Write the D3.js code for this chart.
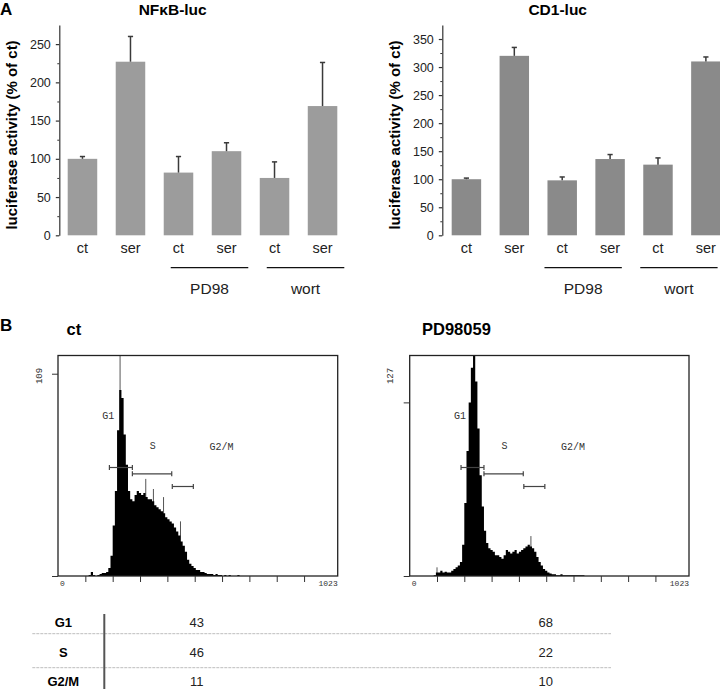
<!DOCTYPE html>
<html>
<head>
<meta charset="utf-8">
<script src="https://cdn.jsdelivr.net/npm/d3@7"></script>
<style>
  body { margin: 0; background: #fff; }
  svg { display: block; font-family: "Liberation Sans", Arial, sans-serif; }
</style>
</head>
<body>
<div id="chart"></div>
<script>
// ---- panel A data ----
const conditions = ["ct", "ser", "ct", "ser", "ct", "ser"];
const groupNames = ["PD98", "wort"];
const groupMembers = [[2, 3], [4, 5]];

const nfkbMeans = [100, 227, 82, 110, 75, 169];
const nfkbErrors = [3, 33, 21, 11, 21, 57];
const nfkbTicks = [0, 50, 100, 150, 200, 250];

const cd1Means = [100, 320, 98, 136, 126, 310];
const cd1Errors = [2, 15, 6, 8, 12, 8];
const cd1Ticks = [0, 50, 100, 150, 200, 250, 300, 350];

// ---- panel B data (DNA content histograms, 8 channel bins) ----
const binWidth = 8;
const ctStart = 96;
const ctCounts = [0, 0, 0.5, 2, 0.5, 0, 0.5, 1, 1.5, 1.5, 2, 4, 10, 25, 42, 72, 92, 88, 70, 55,
  42, 38, 37, 40, 42, 41, 40, 41, 39, 38, 38, 37, 35, 34, 33, 32, 31, 29, 28, 27,
  26, 24, 22, 20, 17, 15, 12, 8, 6, 5, 4, 3, 3, 2, 2, 1.5, 1, 1, 1, 0.5,
  1, 0.5, 0.5, 0, 0.5, 0, 0.5, 0, 0, 0, 0.5, 0];
const ctSpikes = [[227, 120], [321, 48], [349, 43], [386, 39], [448, 27]];

const pdStart = 88;
const pdCounts = [0.5, 2, 2, 3, 2, 2.5, 2, 2, 3, 4, 5, 6, 8, 18, 42, 72, 100, 120, 127, 112,
  85, 58, 40, 26, 19, 16, 15, 14, 12, 12, 11, 10, 12, 15, 14, 13, 14, 15, 13, 14,
  15, 16, 17, 18, 17, 16, 14, 11, 8, 6, 4, 3, 2, 1.5, 1, 1, 0.5, 0.5, 1, 0.5,
  0.5, 0.5, 0.5, 0.5, 0.5, 0.5, 0.5, 0.5, 0.5, 0];
const pdSpikes = [[100, 5], [444, 23]];

const gateNames = ["G1", "S", "G2/M"];
const gateRanges = [[188, 272], [272, 416], [418, 495]];
const gateLabelChannels = [184, 347, 598];

// ---- cell cycle table ----
const phases = ["G1", "S", "G2/M"];
const ctPercents = [43, 46, 11];
const pdPercents = [68, 22, 10];

const svg = d3.select("#chart").append("svg")
    .attr("width", 720)
    .attr("height", 689);

svg.append("text").attr("x", 0).attr("y", 15)
    .attr("font-weight", "bold").attr("font-size", 17).text("A");
svg.append("text").attr("x", 0).attr("y", 331)
    .attr("font-weight", "bold").attr("font-size", 17).text("B");

function barPanel(o) {
    const g = svg.append("g");
    const y = d3.scaleLinear().domain([0, o.yMax]).range([235.3, 25]);
    const x = d3.scaleBand().domain(d3.range(conditions.length))
        .range([o.left, o.right]).paddingInner(0.385).paddingOuter(o.outer);

    g.selectAll("rect.bar").data(o.means).join("rect")
        .attr("class", "bar")
        .attr("x", (d, i) => x(i))
        .attr("width", x.bandwidth())
        .attr("y", d => y(d))
        .attr("height", d => y(0) - y(d))
        .attr("fill", o.color);

    // upper error bars only
    const err = g.selectAll("g.err").data(o.means).join("g").attr("class", "err")
        .attr("stroke", "#3a3a3a").attr("stroke-width", 1.5);
    err.append("line")
        .attr("x1", (d, i) => x(i) + x.bandwidth() / 2)
        .attr("x2", (d, i) => x(i) + x.bandwidth() / 2)
        .attr("y1", d => y(d))
        .attr("y2", (d, i) => y(d + o.errors[i]));
    err.append("line")
        .attr("x1", (d, i) => x(i) + x.bandwidth() / 2 - 2.6)
        .attr("x2", (d, i) => x(i) + x.bandwidth() / 2 + 2.6)
        .attr("y1", (d, i) => y(d + o.errors[i]))
        .attr("y2", (d, i) => y(d + o.errors[i]));

    // y axis with minor ticks
    const minor = d3.range(25, o.yMax, 50);
    g.append("g").attr("transform", `translate(${o.left},0)`)
        .call(d3.axisLeft(y).tickValues(minor).tickSize(2).tickFormat("").tickSizeOuter(0))
        .call(a => a.select(".domain").remove())
        .selectAll("line").attr("stroke", "#333");
    const ax = g.append("g").attr("transform", `translate(${o.left},0)`)
        .call(d3.axisLeft(y).tickValues(o.ticks).tickSize(3.5).tickPadding(5).tickSizeOuter(0));
    ax.select(".domain").attr("stroke", "#333").attr("stroke-width", 1.2);
    ax.selectAll("line").attr("stroke", "#333").attr("stroke-width", 1.2);
    ax.selectAll("text").attr("font-size", 12.5).attr("fill", "#222")
        .attr("font-family", "Liberation Sans, Arial, sans-serif");

    g.selectAll("text.cat").data(conditions).join("text")
        .attr("class", "cat")
        .attr("x", (d, i) => x(i) + x.bandwidth() / 2)
        .attr("y", 253)
        .attr("text-anchor", "middle")
        .attr("font-size", 14.5)
        .attr("fill", "#222")
        .text(d => d);

    groupNames.forEach((name, k) => {
        const [a, b] = groupMembers[k];
        const x1 = x(a) + o.lineShift, x2 = x(b) + x.bandwidth() + o.lineShift;
        g.append("line").attr("x1", x1).attr("x2", x2).attr("y1", 267.7).attr("y2", 267.7)
            .attr("stroke", "#111").attr("stroke-width", 1.3);
        g.append("text").attr("x", (x1 + x2) / 2).attr("y", 294)
            .attr("text-anchor", "middle").attr("font-size", 15.5).attr("fill", "#222")
            .text(name);
    });

    g.append("text").attr("x", o.titleX).attr("y", 15)
        .attr("text-anchor", "middle").attr("font-weight", "bold").attr("font-size", 15.5)
        .text(o.title);

    g.append("text")
        .attr("transform", `translate(${o.yTitleX},135) rotate(-90)`)
        .attr("text-anchor", "middle").attr("font-weight", "bold").attr("font-size", 15)
        .attr("dy", "0.35em")
        .text("luciferase activity (% of ct)");
}

barPanel({
    left: 59.3, right: 345.7, outer: 0.175, yMax: 275,
    means: nfkbMeans, errors: nfkbErrors, ticks: nfkbTicks, color: "#9c9c9c",
    title: "NFκB-luc", titleX: 172.7, yTitleX: 11.7, lineShift: 7
});
barPanel({
    left: 442.3, right: 730, outer: 0.196, yMax: 375,
    means: cd1Means, errors: cd1Errors, ticks: cd1Ticks, color: "#8a8a8a",
    title: "CD1-luc", titleX: 557.7, yTitleX: 395, lineShift: -3
});

function histPanel(o) {
    const g = svg.append("g");
    const top = 355.5, bottom = 576;
    const x = d3.scaleLinear().domain([0, 1023]).range([o.left, o.right]);
    const y = d3.scaleLinear().domain([0, o.yMax]).range([bottom, top]);
    const clip = v => y(Math.min(v, o.yMax));

    const pts = o.counts.map((c, i) => [o.start + i * binWidth, c]);
    pts.push([o.start + o.counts.length * binWidth, 0]);

    // single channel spikes sit behind the filled histogram
    g.selectAll("line.spike").data(o.spikes).join("line")
        .attr("class", "spike")
        .attr("x1", d => x(d[0])).attr("x2", d => x(d[0]))
        .attr("y1", bottom).attr("y2", d => clip(d[1]))
        .attr("stroke", "#555").attr("stroke-width", 1);

    g.append("path")
        .datum(pts)
        .attr("fill", "#000")
        .attr("d", d3.area().curve(d3.curveStepAfter)
            .x(d => x(d[0])).y0(bottom).y1(d => clip(d[1])));

    g.append("rect")
        .attr("x", o.left).attr("y", top)
        .attr("width", o.right - o.left).attr("height", bottom - top)
        .attr("fill", "none").attr("stroke", "#222").attr("stroke-width", 1.3);

    // x ticks every 100 channels, pointing down
    g.append("g").attr("transform", `translate(0,${bottom})`)
        .call(d3.axisBottom(x).tickValues(d3.range(100, 1000, 100)).tickSize(6).tickFormat("").tickSizeOuter(0))
        .call(a => a.select(".domain").remove())
        .selectAll("line").attr("stroke", "#333");
    g.append("g").attr("transform", `translate(${o.left},0)`)
        .call(d3.axisLeft(y).tickValues([0, 100]).tickSize(6).tickFormat("").tickSizeOuter(0))
        .call(a => a.select(".domain").remove())
        .selectAll("line").attr("stroke", "#333");

    const mono = "Liberation Mono, Courier New, monospace";
    g.append("text").attr("x", o.left + 2).attr("y", 586)
        .attr("font-family", mono).attr("font-size", 8).attr("fill", "#333").text("0");
    g.append("text").attr("x", o.right).attr("y", 586).attr("text-anchor", "end")
        .attr("font-family", mono).attr("font-size", 8).attr("fill", "#333").text("1023");
    g.append("text")
        .attr("transform", `translate(${o.left - 19.5},376) rotate(-90)`)
        .attr("text-anchor", "middle").attr("dy", "0.35em")
        .attr("font-family", mono).attr("font-size", 9).attr("fill", "#333")
        .text(o.yMax);

    // gates
    const gateOffsets = [112, 118.3, 131];
    gateRanges.forEach((r, k) => {
        const gy = top + gateOffsets[k];
        const gg = g.append("g").attr("stroke", "#444").attr("stroke-width", 1.2);
        gg.append("line").attr("x1", x(r[0])).attr("x2", x(r[1])).attr("y1", gy).attr("y2", gy);
        r.forEach(c => gg.append("line").attr("x1", x(c)).attr("x2", x(c))
            .attr("y1", gy - 2.5).attr("y2", gy + 2.5));
    });
    const labelOffsets = [60, 90, 91];
    gateNames.forEach((n, k) => {
        g.append("text").attr("x", x(gateLabelChannels[k])).attr("y", top + labelOffsets[k])
            .attr("text-anchor", "middle").attr("dy", "0.35em")
            .attr("font-family", mono).attr("font-size", 10).attr("fill", "#333")
            .text(n);
    });

    g.append("text").attr("x", o.titleX).attr("y", 335)
        .attr("font-weight", "bold").attr("font-size", 16.5).text(o.title);
}

histPanel({ left: 58, right: 337.7, yMax: 109, start: ctStart, counts: ctCounts,
    spikes: ctSpikes, title: "ct", titleX: 66.5 });
histPanel({ left: 409.7, right: 689, yMax: 127, start: pdStart, counts: pdCounts,
    spikes: pdSpikes, title: "PD98059", titleX: 422 });

// ---- table ----
const rowY = d3.scalePoint().domain(phases).range([622.7, 681.7]);
const t = svg.append("g");
t.selectAll("text.phase").data(phases).join("text")
    .attr("class", "phase")
    .attr("x", 63.3).attr("y", d => rowY(d)).attr("dy", "0.35em")
    .attr("text-anchor", "middle").attr("font-weight", "bold").attr("font-size", 13)
    .text(d => d);
t.selectAll("text.ctv").data(ctPercents).join("text")
    .attr("class", "ctv")
    .attr("x", 196.7).attr("y", (d, i) => rowY(phases[i])).attr("dy", "0.35em")
    .attr("text-anchor", "middle").attr("font-size", 13).attr("fill", "#222")
    .text(d => d);
t.selectAll("text.pdv").data(pdPercents).join("text")
    .attr("class", "pdv")
    .attr("x", 545.7).attr("y", (d, i) => rowY(phases[i])).attr("dy", "0.35em")
    .attr("text-anchor", "middle").attr("font-size", 13).attr("fill", "#222")
    .text(d => d);
[633.7, 667.7].forEach(yy => {
    t.append("line").attr("x1", 32.3).attr("x2", 611).attr("y1", yy).attr("y2", yy)
        .attr("stroke", "#bdbdbd").attr("stroke-width", 1).attr("stroke-dasharray", "3,1");
});
t.append("line").attr("x1", 104.3).attr("x2", 104.3).attr("y1", 614).attr("y2", 689)
    .attr("stroke", "#555").attr("stroke-width", 2);
</script>
</body>
</html>
